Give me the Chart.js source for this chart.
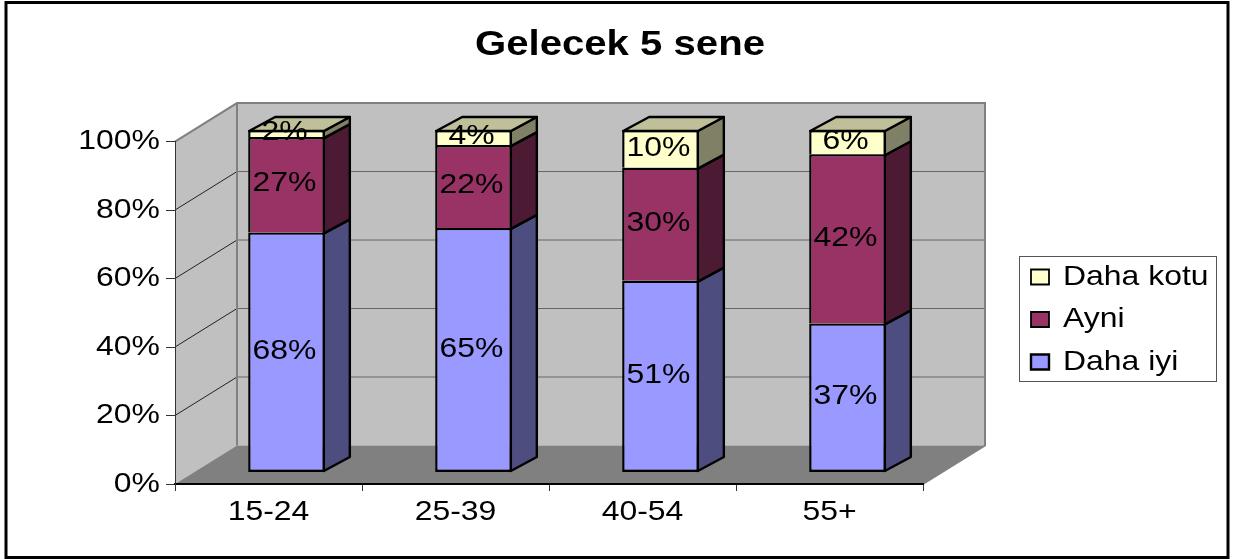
<!DOCTYPE html>
<html><head><meta charset="utf-8">
<style>html,body{margin:0;padding:0;background:#fff}canvas{display:block}</style>
<script src="https://cdn.jsdelivr.net/npm/chart.js@4"></script>
</head><body>
<canvas id="c" width="1233" height="559" style="width:1233px;height:559px"></canvas>
<script>
const categories = ['15-24', '25-39', '40-54', '55+'];
const dahaIyi = [68, 65, 51, 37];
const ayni = [27, 22, 30, 42];
const dahaKotu = [2, 4, 10, 6];
const titleText = 'Gelecek 5 sene';

const totals = categories.map((_, i) => dahaIyi[i] + ayni[i] + dahaKotu[i]);
const share = arr => arr.map((v, i) => v / totals[i] * 100);

const FONT = '"Liberation Sans", Arial, sans-serif';
const STRETCH = 1.14;
const WALL = {dx: 62, dy: -38.5};
const BAR = {dx: 18, dy: -11.5};
const SIDE = {dx: 26, dy: -14};

const canvas = document.getElementById('c');
const ctx2d = canvas.getContext('2d');
// The reference text is horizontally stretched
const rawFill = ctx2d.fillText.bind(ctx2d);
const rawMeasure = ctx2d.measureText.bind(ctx2d);
ctx2d.fillText = function (t, x, y) {
  ctx2d.save(); ctx2d.translate(x, y); ctx2d.scale(STRETCH, 1); rawFill(t, 0, 0); ctx2d.restore();
};
ctx2d.measureText = function (t) {
  const m = rawMeasure(t);
  return {width: m.width * STRETCH, actualBoundingBoxAscent: m.actualBoundingBoxAscent, actualBoundingBoxDescent: m.actualBoundingBoxDescent};
};

function poly(ctx, pts, fill, stroke, lw) {
  ctx.beginPath();
  pts.forEach((p, i) => i ? ctx.lineTo(p[0], p[1]) : ctx.moveTo(p[0], p[1]));
  ctx.closePath();
  if (fill) { ctx.fillStyle = fill; ctx.fill(); }
  if (stroke) { ctx.strokeStyle = stroke; ctx.lineWidth = lw || 1; ctx.stroke(); }
}

const scene = {
  id: 'scene',
  afterLayout(chart) {
    const t = chart.titleBlock; t.left = 0; t.right = 1240;
    const l = chart.legend;
    l.left = 1016.5; l.right = 1217; l.width = 200.5;
    l.top = 248.5; l.bottom = 450; l.height = 201.5;
  },
  beforeDraw(chart) {
    const ctx = chart.ctx, a = chart.chartArea, y = chart.scales.y;
    ctx.save();
    ctx.fillStyle = '#fff'; ctx.fillRect(0, 0, chart.width, chart.height);
    ctx.strokeStyle = '#000'; ctx.lineWidth = 3;
    ctx.strokeRect(6, 2.5, 1222, 555);
    const L = a.left, R = a.right, T = a.top, B = a.bottom, dx = WALL.dx, dy = WALL.dy;
    poly(ctx, [[L, T], [L + dx, T + dy], [L + dx, B + dy], [L, B]], '#C0C0C0');
    poly(ctx, [[L + dx, T + dy], [R + dx, T + dy], [R + dx, B + dy], [L + dx, B + dy]], '#C0C0C0');
    poly(ctx, [[L, B], [L + dx, B + dy], [R + dx, B + dy], [R, B]], '#808080');
    y.ticks.forEach(t => {
      if (t.value === 0) return;
      const p = y.getPixelForValue(t.value);
      if (t.value < 100) {
        ctx.strokeStyle = '#222'; ctx.lineWidth = 1;
        ctx.beginPath(); ctx.moveTo(L, p); ctx.lineTo(L + dx, p + dy); ctx.stroke();
        ctx.strokeStyle = '#666';
        ctx.beginPath(); ctx.moveTo(L + dx, p + dy); ctx.lineTo(R + dx, p + dy); ctx.stroke();
      }
    });
    ctx.strokeStyle = '#808080'; ctx.lineWidth = 2;
    ctx.beginPath();
    ctx.moveTo(L, T); ctx.lineTo(L + dx, T + dy); ctx.lineTo(R + dx, T + dy); ctx.lineTo(R + dx, B + dy); ctx.lineTo(R, B);
    ctx.moveTo(L + dx, T + dy); ctx.lineTo(L + dx, B + dy);
    ctx.stroke();
    // legend frame
    ctx.strokeStyle = '#555'; ctx.lineWidth = 1;
    ctx.strokeRect(1019.5, 256.5, 197, 125);
    ctx.restore();
  },
  beforeDatasetsDraw(chart) {
    const ctx = chart.ctx;
    ctx.save();
    ctx.translate(BAR.dx, BAR.dy);
    const sides = ['#4D4D80', '#4D1A33', '#808066'];
    const last = chart.data.datasets.length - 1;
    ctx.lineJoin = 'round';
    chart.data.datasets.forEach((ds, d) => {
      chart.getDatasetMeta(d).data.forEach(el => {
        const r = el.x + el.width / 2 - 1, l = el.x - el.width / 2 + 1;
        const top = el.y + 1, base = el.base + (d === 0 ? -1 : 1);
        poly(ctx, [[r, top], [r + SIDE.dx, top + SIDE.dy], [r + SIDE.dx, base + SIDE.dy], [r, base]], sides[d], '#000', 2.4);
        if (d === last) poly(ctx, [[l, top], [l + SIDE.dx, top + SIDE.dy], [r + SIDE.dx, top + SIDE.dy], [r, top]], '#BFBF99', '#000', 2.4);
      });
    });
  },
  afterDatasetsDraw(chart) {
    const ctx = chart.ctx;
    ctx.font = '28px ' + FONT;
    ctx.fillStyle = '#000';
    ctx.textAlign = 'center';
    ctx.textBaseline = 'middle';
    const raws = [dahaIyi, ayni, dahaKotu];
    chart.data.datasets.forEach((ds, d) => {
      chart.getDatasetMeta(d).data.forEach((el, i) => {
        ctx.fillText(raws[d][i] + '%', el.x - 2, (el.y + el.base) / 2 - 1);
      });
    });
    ctx.restore();
  }
};

const edge = lowest => ({top: 2.4, left: 2.4, right: 2.4, bottom: lowest ? 2.4 : 0});

new Chart(ctx2d, {
  type: 'bar',
  data: {
    labels: categories,
    datasets: [
      {label: 'Daha iyi', data: share(dahaIyi), backgroundColor: '#9999FF', borderWidth: edge(true)},
      {label: 'Ayni', data: share(ayni), backgroundColor: '#993366', borderWidth: edge(false)},
      {label: 'Daha kotu', data: share(dahaKotu), backgroundColor: '#FFFFCC', borderWidth: edge(false)}
    ].map(d => Object.assign(d, {borderColor: '#000', borderSkipped: false, barPercentage: 0.41, categoryPercentage: 1}))
  },
  plugins: [scene],
  options: {
    responsive: false,
    animation: false,
    events: [],
    devicePixelRatio: 1,
    layout: {padding: {left: 10, right: 310, top: 24, bottom: 10}},
    plugins: {
      tooltip: {enabled: false},
      title: {display: true, text: titleText, color: '#000', align: 'center',
        font: {family: FONT, size: 35.2, weight: 'bold', lineHeight: 1.2}, padding: {top: 0, bottom: 75.3}},
      legend: {display: true, position: 'chartArea', align: 'start', reverse: true,
        labels: {color: '#000', boxWidth: 18, boxHeight: 15, padding: 14.5, font: {family: FONT, size: 28}}}
    },
    scales: {
      x: {stacked: true, offset: true,
        afterFit(s) { s.height = 65; },
        grid: {display: true, offset: true, drawOnChartArea: false, drawTicks: true, tickLength: 7, color: '#333'},
        border: {display: true, color: '#000', width: 2},
        ticks: {color: '#000', padding: 4, maxRotation: 0, font: {family: FONT, size: 28}}},
      y: {stacked: true, min: 0, max: 100,
        afterFit(s) { s.width = 165; },
        grid: {display: true, drawOnChartArea: false, drawTicks: true, tickLength: 9, color: '#333'},
        border: {display: true, color: '#333', width: 1},
        ticks: {color: '#000', stepSize: 20, padding: 6, callback: v => v + '%', font: {family: FONT, size: 28}}}
    }
  }
});
</script>
</body></html>
